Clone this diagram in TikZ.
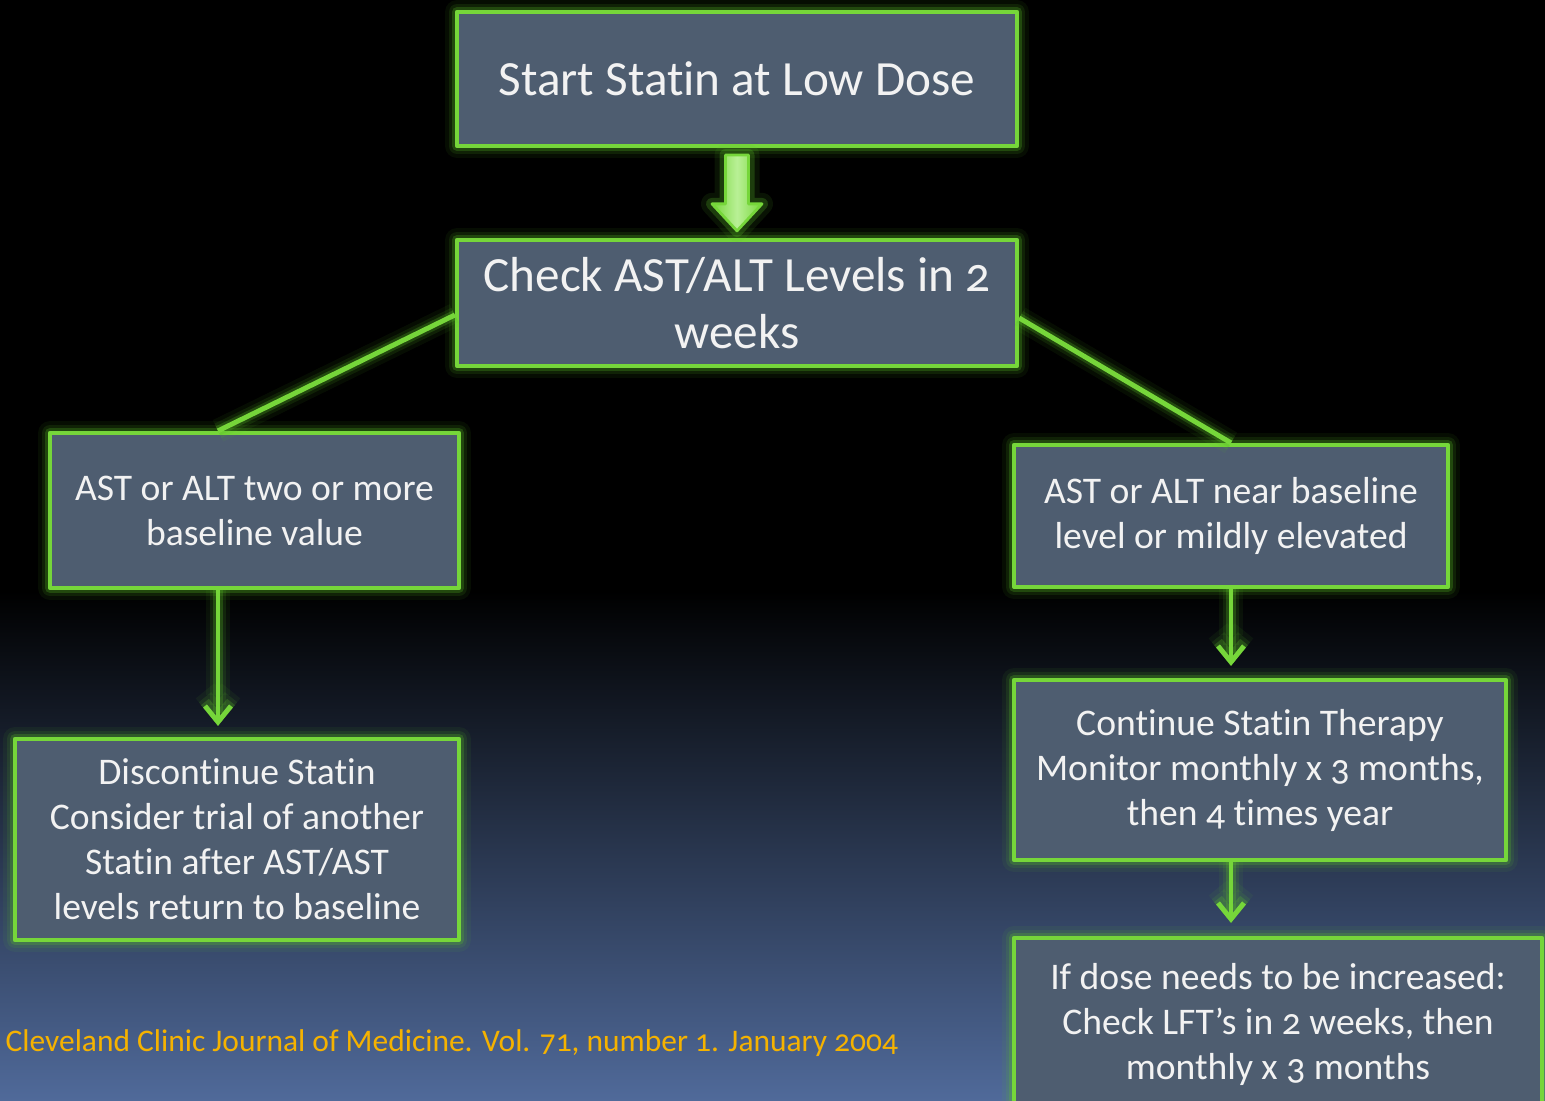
\documentclass[tikz,border=0pt]{standalone}
\usepackage{fontspec}
\setmainfont{Carlito}[Numbers=OldStyle, RawFeature={-liga;-clig;-calt;-dlig}]
\usetikzlibrary{arrows.meta}
\definecolor{boxgray}{RGB}{78,93,112}
\definecolor{edge}{RGB}{118,214,58}
\definecolor{halo}{RGB}{90,190,40}
\definecolor{shine}{RGB}{185,240,150}
\definecolor{bgblue}{RGB}{80,106,154}
\definecolor{cite}{RGB}{245,178,0}
\definecolor{ink}{RGB}{242,242,242}
\begin{document}
\begin{tikzpicture}
            \tikzstyle{glow} = [line join=round, preaction={draw=halo, line width=2.4mm, opacity=0.07, line join=round}, preaction={draw=halo, line width=1.6mm, opacity=0.12, line join=round}, preaction={draw=halo, line width=1mm, opacity=0.25, line join=round}]
            \tikzstyle{card} = [glow, draw=edge, line width=1.2pt, fill=boxgray, text=ink, align=center, inner sep=0pt]
            \tikzstyle{big} = [card, font=\fontsize{14}{16.2}\selectfont]
            \tikzstyle{small} = [card, font=\fontsize{10.7}{12.8}\selectfont]
            \tikzstyle{link} = [glow, draw=edge, line width=1.4pt]
            \tikzstyle{down} = [link, -{Straight Barb[length=1.6mm, width=2.6mm]}]
            \clip (0,0) rectangle (15.45,11.01);
            \fill[black] (0,0) rectangle (15.45,11.01);
            \shade[top color=black, bottom color=bgblue] (0,0) rectangle (15.45,5.1);
            \node[big, minimum width=5.6cm, minimum height=1.34cm] (start) at (7.37, 10.22) {Start Statin at Low Dose};
            \node[big, minimum width=5.6cm, minimum height=1.26cm] (check) at (7.37, 7.98) {Check AST/ALT Levels in 2\\weeks};
            \node[small, minimum width=4.09cm, minimum height=1.55cm] (high) at (2.545, 5.905) {AST or ALT two or more\\baseline value};
            \node[small, minimum width=4.34cm, minimum height=1.42cm] (normal) at (12.31, 5.85) {AST or ALT near baseline\\level or mildly elevated};
            \node[small, minimum width=4.44cm, minimum height=2.01cm] (stop) at (2.37, 2.615) {Discontinue Statin\\Consider trial of another\\Statin after AST/AST\\levels return to baseline};
            \node[small, minimum width=4.92cm, minimum height=1.8cm] (cont) at (12.6, 3.31) {Continue Statin Therapy\\Monitor monthly x 3 months,\\then 4 times year};
            \node[small, minimum width=5.28cm, minimum height=1.72cm] (increase) at (12.78, 0.77) {If dose needs to be increased:\\Check LFT’s in 2 weeks, then\\monthly x 3 months};
            \node[anchor=base west, inner sep=0pt, text=cite, font=\fontsize{8.95}{10.5}\selectfont] (source) at (0.05, 0.49) {Cleveland Clinic Journal of Medicine. Vol. 71, number 1. January 2004};
            \path (start.south) ++(0,-0.07) coordinate (fa);
            \path (check.north) ++(0,0.07) coordinate (fb);
            \draw[preaction={draw=halo, line width=2.2mm, opacity=0.1, line join=round}, preaction={draw=halo, line width=1.2mm, opacity=0.25, line join=round}, draw=edge, line width=0.8pt, left color=edge, right color=edge, middle color=shine, line join=round]
                ([xshift=-1.15mm]fa) -- ([xshift=-1.15mm, yshift=2.7mm]fb) -- ([xshift=-2.5mm, yshift=2.7mm]fb) -- (fb)
                -- ([xshift=2.5mm, yshift=2.7mm]fb) -- ([xshift=1.15mm, yshift=2.7mm]fb) -- ([xshift=1.15mm]fa) -- cycle;
            \coordinate (hx) at ([xshift=-0.365cm]high.north);
            \draw[link] ([yshift=-1.2mm]check.west) -- (hx);
            \draw[link] ([yshift=-1.5mm]check.east) -- (normal.north);
            \draw[down, shorten >=1.1mm] (hx |- high.south) -- (hx |- stop.north);
            \draw[down, shorten >=1.2mm] (normal.south) -- (normal.south |- cont.north);
            \draw[down, shorten >=1.3mm] (normal.south |- cont.south) -- (normal.south |- increase.north);
        \end{tikzpicture}
\end{document}
